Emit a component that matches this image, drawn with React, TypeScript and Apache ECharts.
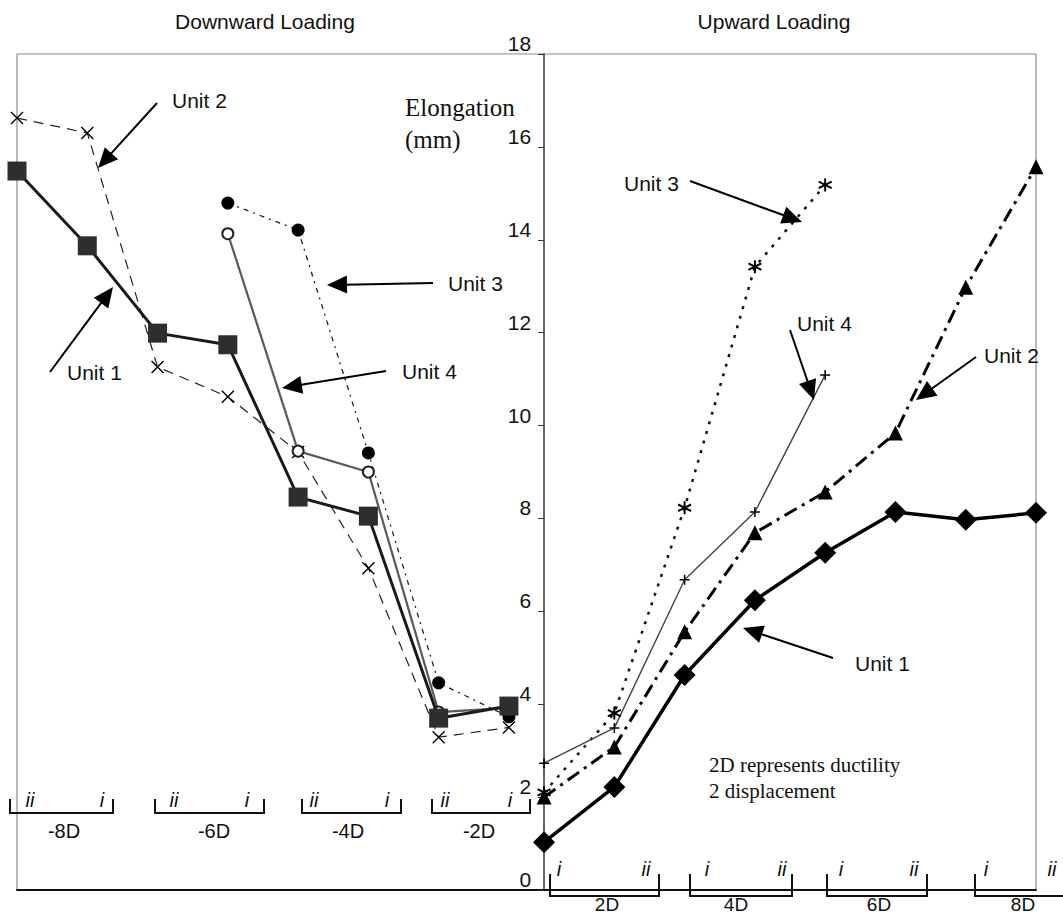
import React, { useEffect, useRef } from "react";
import * as echarts from "echarts";

// ---- data ----
// x: loading cycle position; negative = downward loading, positive = upward loading
const xDown = [-7.5, -6.5, -5.5, -4.5, -3.5, -2.5, -1.5, -0.5];
const xUp = [0, 1, 2, 3, 4, 5, 6, 7];

const unit1Down = [15.48, 13.87, 11.99, 11.74, 8.46, 8.05, 3.7, 3.96];
const unit2Down = [16.62, 16.3, 11.26, 10.62, 9.43, 6.93, 3.29, 3.5];
const unit3Down = [null, null, null, 14.79, 14.21, 9.41, 4.46, 3.73];
const unit4Down = [null, null, null, 14.13, 9.45, 9.0, 3.83, 3.92];

const unit1Up = [1.03, 2.22, 4.63, 6.24, 7.26, 8.14, 7.97, 8.12];
const unit2Up = [2.0, 3.08, 5.56, 7.69, 8.57, 9.84, 12.98, 15.57];
const unit3Up = [2.1, 3.81, 8.23, 13.42, 15.18];
const unit4Up = [2.73, 3.49, 6.68, 8.14, 11.09];

const xMin = -7.5;
const xMax = 7;
const yMin = 0;
const yMax = 18;
const yStep = 2;

const panelTitles = ["Downward Loading", "Upward Loading"];
const axisTitle = ["Elongation", "(mm)"];
const cycleLabelsDown = ["-8D", "-6D", "-4D", "-2D"];
const cycleLabelsUp = ["2D", "4D", "6D", "8D"];
const noteLines = ["2D represents ductility", "2 displacement"];

// ---- styling / layout ----
const W = 1063;
const H = 915;
const GRID = { left: 17, right: 27, top: 54, bottom: 25 };
const gridW = W - GRID.left - GRID.right;
const yAxisOffset = -((0 - xMin) / (xMax - xMin)) * gridW;

const SANS = "'Liberation Sans', Arial, Helvetica, sans-serif";
const SERIF = "'Liberation Serif', 'Times New Roman', serif";

const CROSS = "path://M0,0L10,10M10,0L0,10";
const PLUS = "path://M5,0L5,10M0,5L10,5";
const STAR = "path://M5,0L5,10M0.7,2.5L9.3,7.5M9.3,2.5L0.7,7.5";

function pairs(xs: number[], ys: (number | null)[]) {
  const out: number[][] = [];
  ys.forEach((y, i) => {
    if (y !== null && y !== undefined) out.push([xs[i], y]);
  });
  return out;
}

function arrow(x1: number, y1: number, x2: number, y2: number) {
  const len = 20;
  const hw = 9;
  const dx = x2 - x1;
  const dy = y2 - y1;
  const d = Math.sqrt(dx * dx + dy * dy);
  const ux = dx / d;
  const uy = dy / d;
  const bx = x2 - ux * len;
  const by = y2 - uy * len;
  const nx = -uy;
  const ny = ux;
  return [
    {
      type: "line",
      shape: { x1, y1, x2: bx + ux * 2, y2: by + uy * 2 },
      style: { stroke: "#000", lineWidth: 2 },
      z: 20,
    },
    {
      type: "polygon",
      shape: {
        points: [
          [x2, y2],
          [bx + nx * hw, by + ny * hw],
          [bx - nx * hw, by - ny * hw],
        ],
      },
      style: { fill: "#000" },
      z: 20,
    },
  ];
}

function txt(text: string, x: number, y: number, opts: any = {}) {
  return {
    type: "text",
    x,
    y,
    z: 20,
    style: {
      text,
      fill: "#111",
      fontSize: opts.size || 21,
      fontFamily: opts.family || SANS,
      fontStyle: opts.italic ? "italic" : "normal",
      align: opts.align || "center",
      verticalAlign: "middle",
    },
  };
}

function bracket(x1: number, x2: number | null, yTop: number, yBot: number, xEnd?: number) {
  const pts =
    x2 === null
      ? [
          [x1, yTop],
          [x1, yBot],
          [xEnd as number, yBot],
        ]
      : [
          [x1, yTop],
          [x1, yBot],
          [x2, yBot],
          [x2, yTop],
        ];
  return {
    type: "polyline",
    shape: { points: pts },
    style: { stroke: "#111", lineWidth: 2, fill: null },
    z: 20,
  };
}

function buildGraphic() {
  const g: any[] = [];
  // panel titles
  g.push(txt(panelTitles[0], 265, 21));
  g.push(txt(panelTitles[1], 774, 21));
  // axis title
  g.push(txt(axisTitle[0], 405, 107, { family: SERIF, size: 25, align: "left" }));
  g.push(txt(axisTitle[1], 405, 139, { family: SERIF, size: 25, align: "left" }));
  // note
  g.push(txt(noteLines[0], 709, 765, { family: SERIF, size: 21, align: "left" }));
  g.push(txt(noteLines[1], 709, 791, { family: SERIF, size: 21, align: "left" }));

  // annotations (downward)
  g.push(txt("Unit 2", 172, 100, { align: "left" }));
  g.push(...arrow(157, 103, 98, 168));
  g.push(txt("Unit 1", 67, 372, { align: "left" }));
  g.push(...arrow(50, 372, 113, 287));
  g.push(txt("Unit 3", 448, 283, { align: "left" }));
  g.push(...arrow(433, 283, 327, 285));
  g.push(txt("Unit 4", 402, 371, { align: "left" }));
  g.push(...arrow(386, 371, 282, 388));
  // annotations (upward)
  g.push(txt("Unit 3", 624, 183, { align: "left" }));
  g.push(...arrow(690, 181, 802, 222));
  g.push(txt("Unit 4", 797, 323, { align: "left" }));
  g.push(...arrow(790, 330, 814, 400));
  g.push(txt("Unit 2", 984, 355, { align: "left" }));
  g.push(...arrow(976, 357, 916, 400));
  g.push(txt("Unit 1", 855, 663, { align: "left" }));
  g.push(...arrow(833, 658, 743, 628));

  // cycle brackets (downward)
  const downSpans = [
    [10, 113, 30, 102, 64],
    [155, 264, 174, 247, 214],
    [302, 401, 314, 387, 348],
    [432, 530, 445, 510, 479],
  ];
  downSpans.forEach((s, i) => {
    g.push(bracket(s[0], s[1], 799, 813));
    g.push(txt("ii", s[2], 800, { italic: true, size: 20 }));
    g.push(txt("i", s[3], 800, { italic: true, size: 20 }));
    g.push(txt(cycleLabelsDown[i], s[4], 831, { size: 20 }));
  });
  // cycle brackets (upward)
  const upSpans = [
    [550, 659, 559, 646, 607],
    [690, 792, 707, 782, 736],
    [827, 927, 841, 914, 879],
    [975, null, 986, 1052, 1023],
  ];
  upSpans.forEach((s, i) => {
    if (s[1] === null) g.push(bracket(s[0] as number, null, 874, 896, 1063));
    else g.push(bracket(s[0] as number, s[1] as number, 874, 896));
    g.push(txt("i", s[2] as number, 869, { italic: true, size: 20 }));
    g.push(txt("ii", s[3] as number, 869, { italic: true, size: 20 }));
    g.push(txt(cycleLabelsUp[i], s[4] as number, 904, { size: 19 }));
  });
  return g;
}

function lineSeries(name: string, data: number[][], o: any) {
  return {
    type: "line",
    name,
    data,
    clip: false,
    symbol: o.symbol,
    symbolSize: o.size,
    showSymbol: true,
    lineStyle: { color: o.lineColor || "#000", width: o.width, type: o.dash || "solid" },
    itemStyle: {
      color: o.fill || "#000",
      borderColor: o.stroke || o.fill || "#000",
      borderWidth: o.border || 0,
    },
    z: o.z || 3,
  };
}

const option: any = {
  animation: false,
  backgroundColor: "#fff",
  grid: {
    left: GRID.left,
    right: GRID.right,
    top: GRID.top,
    bottom: GRID.bottom,
    containLabel: false,
    outerBoundsMode: "none",
    show: true,
    borderColor: "#8c8c8c",
    borderWidth: 1.2,
    backgroundColor: "transparent",
  },
  xAxis: {
    type: "value",
    min: xMin,
    max: xMax,
    axisLine: { show: true, onZero: false, lineStyle: { color: "#111", width: 2 } },
    axisTick: { show: false },
    axisLabel: { show: false },
    splitLine: { show: false },
  },
  yAxis: {
    type: "value",
    min: yMin,
    max: yMax,
    interval: yStep,
    position: "left",
    offset: yAxisOffset,
    axisLine: { show: true, onZero: false, lineStyle: { color: "#333", width: 1.5 } },
    axisTick: { show: true, length: 6, lineStyle: { color: "#333", width: 1 } },
    axisLabel: {
      color: "#111",
      fontSize: 21,
      fontFamily: SANS,
      margin: 13,
      verticalAlign: "bottom",
      lineHeight: 21,
    },
    splitLine: { show: false },
  },
  series: [
    // downward loading
    lineSeries("Unit 2 down", pairs(xDown, unit2Down), {
      symbol: CROSS, size: 12, width: 1.2, dash: [10, 7], lineColor: "#222",
      fill: "#000", stroke: "#000", border: 1.4,
    }),
    lineSeries("Unit 3 down", pairs(xDown, unit3Down), {
      symbol: "circle", size: 13, width: 1.3, dash: [5, 5, 2, 5], lineColor: "#222", fill: "#000",
    }),
    lineSeries("Unit 4 down", pairs(xDown, unit4Down), {
      symbol: "circle", size: 11, width: 2.2, lineColor: "#5a5a5a",
      fill: "#fff", stroke: "#222", border: 2,
    }),
    lineSeries("Unit 1 down", pairs(xDown, unit1Down), {
      symbol: "rect", size: 19, width: 3, lineColor: "#1a1a1a", fill: "#2e2e2e", z: 4,
    }),
    // upward loading
    lineSeries("Unit 3 up", pairs(xUp, unit3Up), {
      symbol: STAR, size: 13, width: 2.5, dash: [3, 7], lineColor: "#111",
      fill: "#000", stroke: "#000", border: 2,
    }),
    lineSeries("Unit 4 up", pairs(xUp, unit4Up), {
      symbol: PLUS, size: 10, width: 1.4, lineColor: "#444",
      fill: "#000", stroke: "#000", border: 1.5,
    }),
    lineSeries("Unit 2 up", pairs(xUp, unit2Up), {
      symbol: "triangle", size: 15, width: 3, dash: [14, 6, 3, 6], lineColor: "#000", fill: "#000",
    }),
    lineSeries("Unit 1 up", pairs(xUp, unit1Up), {
      symbol: "diamond", size: 22, width: 3.5, lineColor: "#000", fill: "#000", z: 4,
    }),
  ],
  graphic: buildGraphic(),
};

export default function App() {
  const ref = useRef<HTMLDivElement>(null);
  useEffect(() => {
    const chart = echarts.init(ref.current as HTMLDivElement, null, { renderer: "svg" });
    chart.setOption(option);
    return () => chart.dispose();
  }, []);
  return (
    <div
      ref={ref}
      style={{ position: "absolute", left: 0, top: 0, width: W, height: H, background: "#fff" }}
    />
  );
}
